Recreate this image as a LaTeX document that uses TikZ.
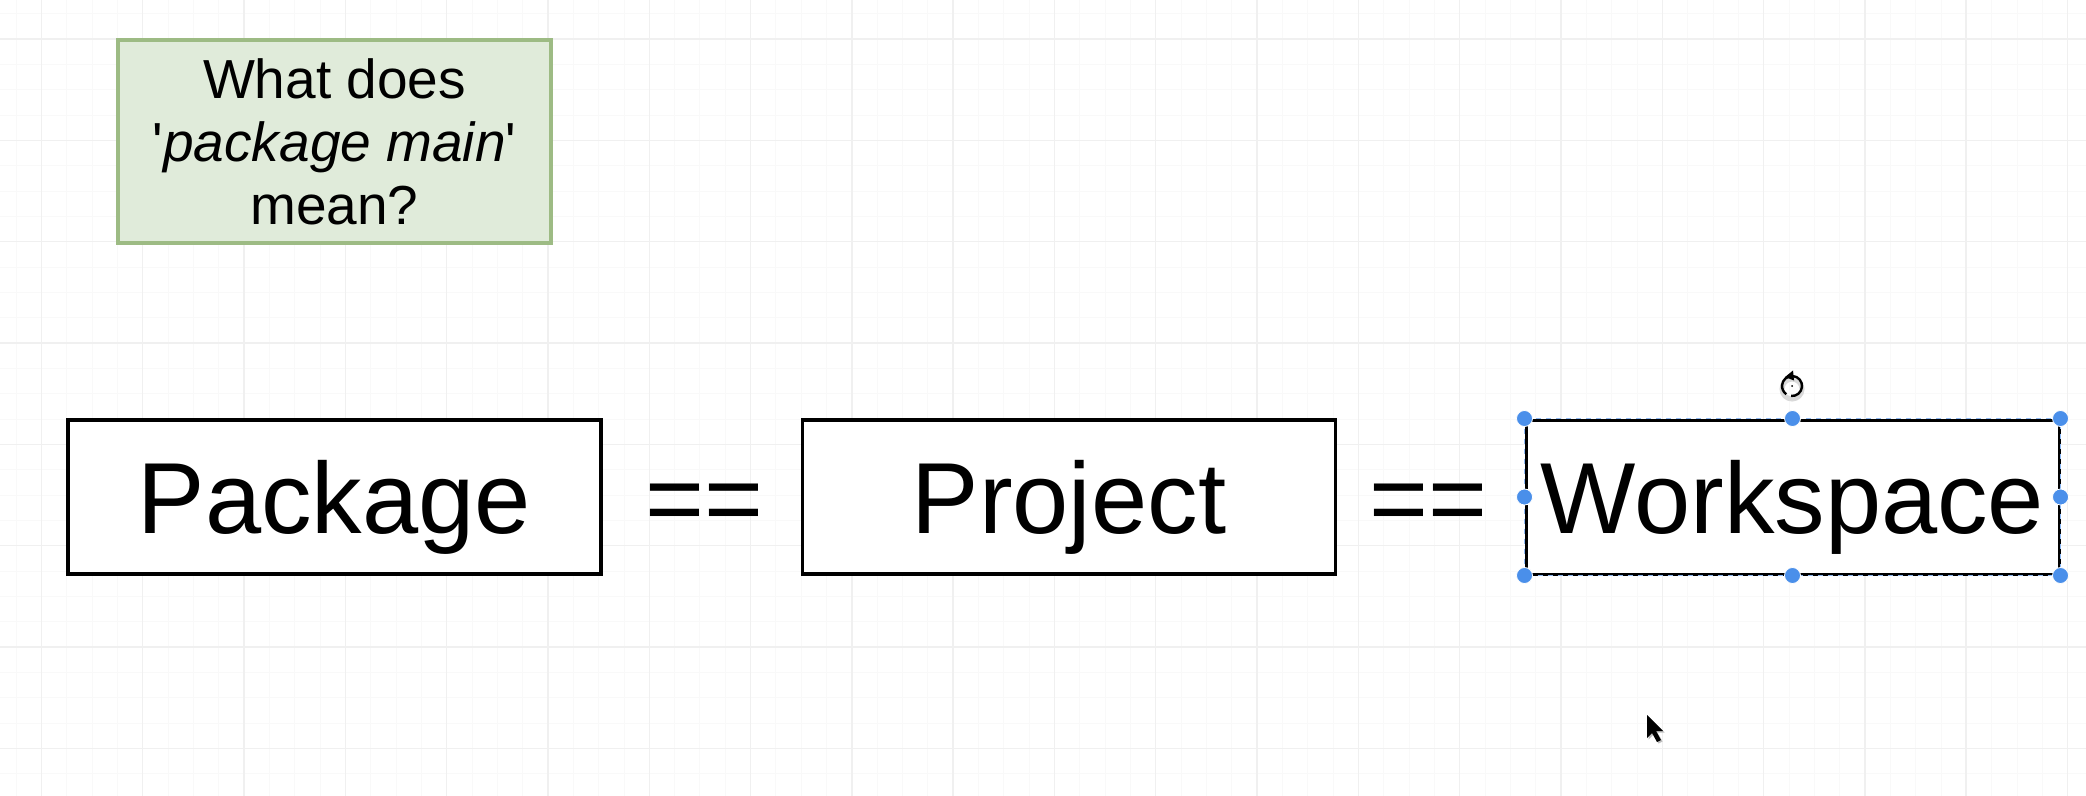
\documentclass[tikz,border=0pt]{standalone}
\usepackage{fontspec}
\setmainfont{Liberation Sans}
\usetikzlibrary{arrows.meta}
\definecolor{gridminor}{HTML}{F9F9F9}
\definecolor{gridmajor}{HTML}{F0F0F0}
\definecolor{notefill}{HTML}{E0EBDA}
\definecolor{noteborder}{HTML}{9DBB84}
\definecolor{handleblue}{HTML}{4A8FEA}
\definecolor{selblue}{HTML}{8DB8F2}
\tikzset{
  bigbox/.style={draw=black, line width=1.8pt, fill=white, minimum width=266.5pt, minimum height=77pt,
    inner sep=0pt, text height=36pt, text depth=0pt, font=\fontsize{50.5}{60}\selectfont},
  eqsign/.style={inner sep=0pt, text height=36pt, text depth=0pt, font=\fontsize{50.5}{60}\selectfont},
  notebox/.style={draw=noteborder, line width=1.6pt, fill=notefill, minimum width=216.5pt, minimum height=101.5pt,
    align=center, font=\fontsize{27.5}{31.5}\selectfont},
  handle/.style={circle, fill=handleblue, draw=white, line width=0.4pt, minimum size=8pt, inner sep=0pt},
  minorline/.style={draw=gridminor, line width=0.5pt},
  majorline/.style={draw=gridmajor, line width=0.7pt}
}
\begin{document}
\begin{tikzpicture}[x=0.5pt, y=-0.5pt]
  \useasboundingbox[fill=white] (0,0) rectangle (2086,796);
  % grid
  \foreach \i in {0,...,82} \draw[minorline] ({16.07+\i*25.33},0) -- ({16.07+\i*25.33},796);
  \foreach \i in {0,...,31} \draw[minorline] (0,{13.9+\i*25.33}) -- (2086,{13.9+\i*25.33});
  \foreach \i in {0,...,20} \draw[majorline] ({41.4+\i*101.3},0) -- ({41.4+\i*101.3},796);
  \foreach \i in {0,...,7} \draw[majorline] (0,{39.2+\i*101.3}) -- (2086,{39.2+\i*101.3});

  % note
  \node[notebox] (note) at (334.5,141.5) {What does\\\textquotesingle\textit{package main}\textquotesingle\\mean?};

  % main boxes
  \node[bigbox] (package) at (334.5,497) {Package};
  \node[eqsign] (eq1) at (704.5,497) {==};
  \node[bigbox] (project) at (1069,497) {Project};
  \node[eqsign] (eq2) at (1428.5,497) {==};
  \node[bigbox, draw=black, line width=1.5pt] (workspace) at (1792.5,497) {Workspace};
  \draw[selblue, line width=0.6pt, dash pattern=on 2.5pt off 2.5pt]
    (workspace.north west) rectangle (workspace.south east);

  % selection handles
  \foreach \a in {north west,north,north east,east,south east,south,south west,west}
    \node[handle] (h-\a) at (workspace.\a) {};

  % rotate icon
  \coordinate (rot) at (1792,386);
  \draw[black!15, line width=2.5pt] ([yshift=-1.5pt]rot) circle[radius=10];
  \draw[black, line width=1.2pt] ([shift={(95:10)}]rot) arc[start angle=95, end angle=-235, radius=10];
  \fill[black] ([shift={(1,-15.5)}]rot) -- ([shift={(-7,-9)}]rot) -- ([shift={(2,-5.5)}]rot) -- cycle;
  \fill[black] (rot) circle[radius=1];

  % mouse cursor
  \coordinate (cur) at (1647,715);
  \fill[black!25] ([shift={(1.5,1.5)}]cur) -- ++(0,23) -- ++(5,-5) -- ++(5,9) -- ++(4,-2) -- ++(-5,-9) -- ++(7,0) -- cycle;
  \fill[black] (cur) -- ++(0,23) -- ++(5,-5) -- ++(5,9) -- ++(4,-2) -- ++(-5,-9) -- ++(7,0) -- cycle;
\end{tikzpicture}
\end{document}
